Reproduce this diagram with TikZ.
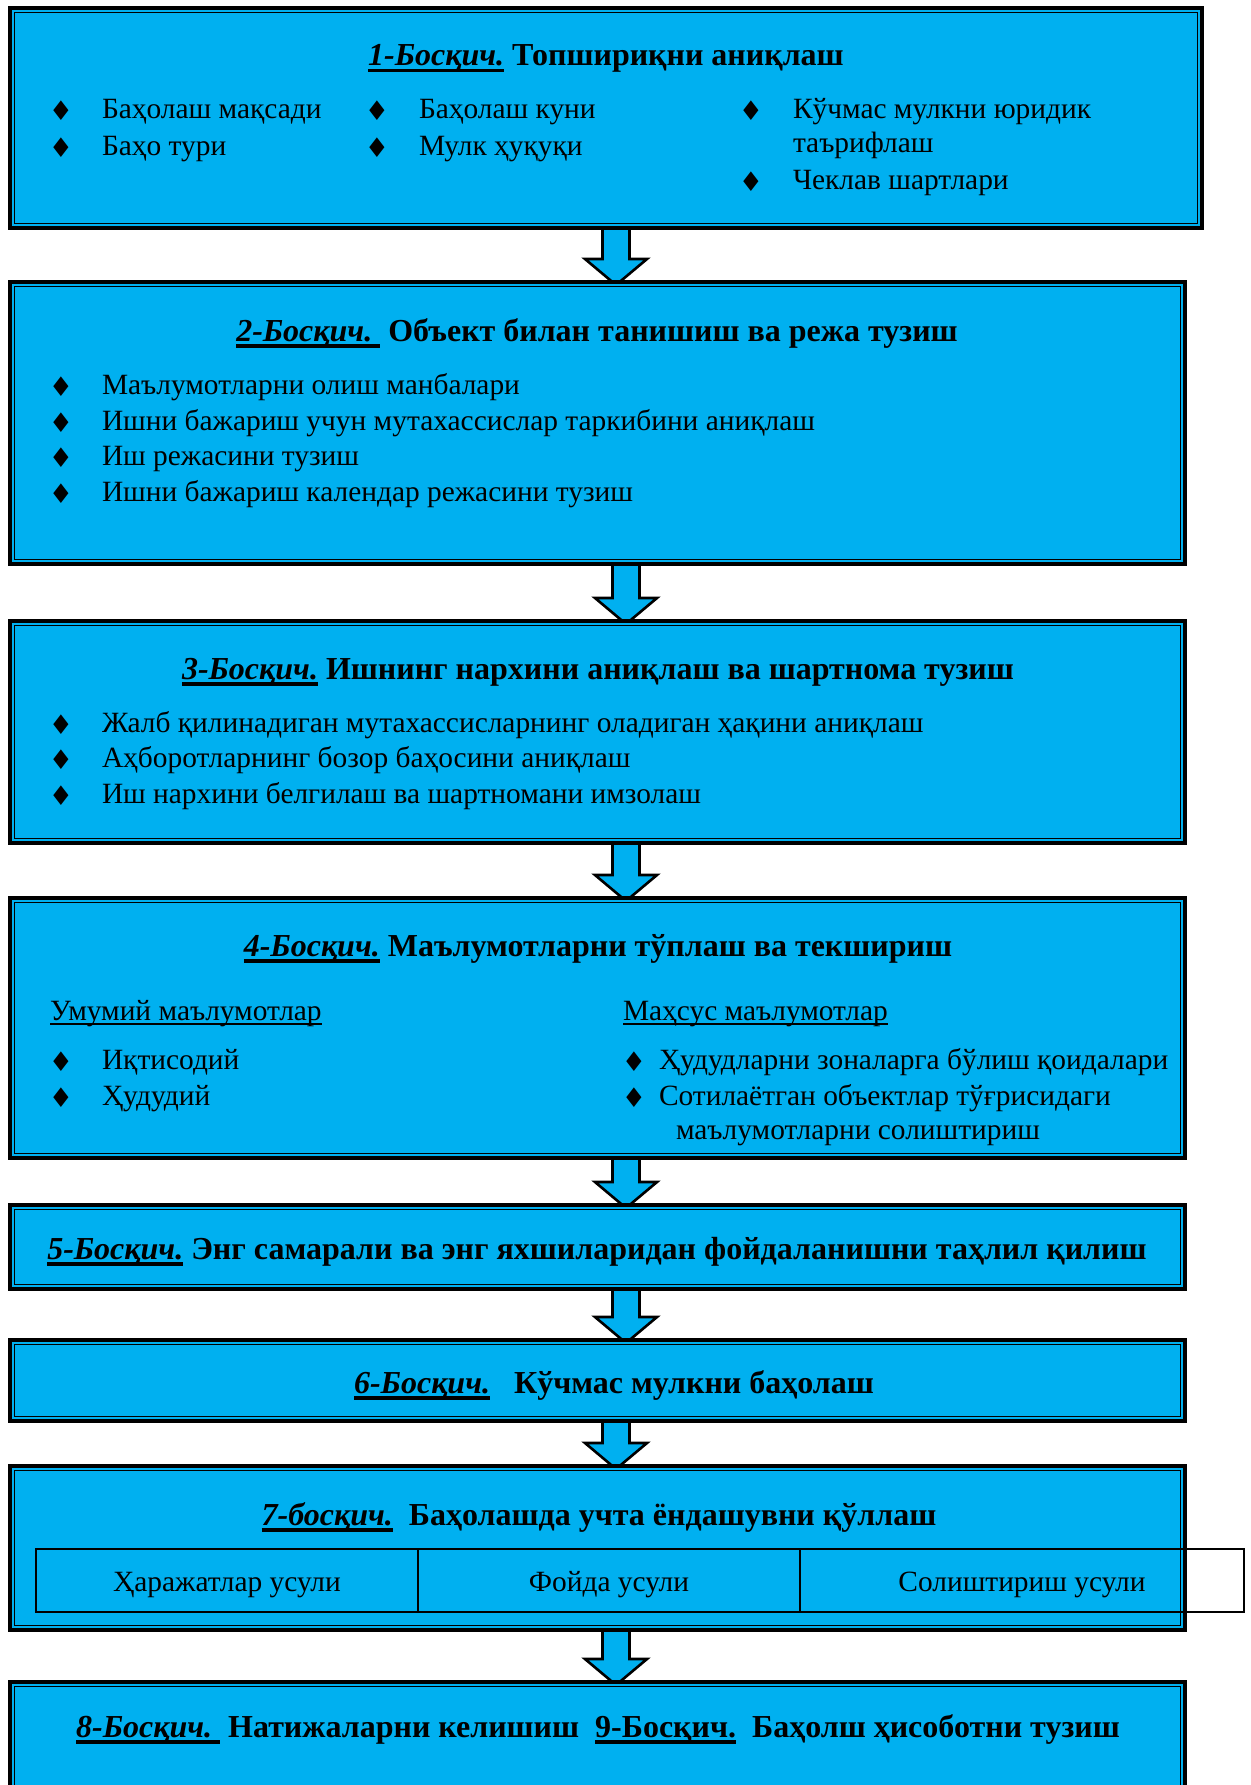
\documentclass[tikz,border=0pt]{standalone}
\usepackage{fontspec}
\setmainfont{Liberation Serif}
\newfontfamily\symf{DejaVu Sans}
\usetikzlibrary{calc,backgrounds}
\definecolor{boxblue}{RGB}{0,176,240}
\newsavebox{\ulbox}
\newcommand{\thickul}[1]{\sbox{\ulbox}{#1}\rlap{\rule[-6.5pt]{\wd\ulbox}{3.5pt}}\usebox{\ulbox}}
\newcommand{\thinul}[1]{\sbox{\ulbox}{#1}\rlap{\rule[-5pt]{\wd\ulbox}{1.6pt}}\usebox{\ulbox}}
\newcommand{\innerfr}[1]{\draw[innerframe] ([shift={(4.6pt,-4.6pt)}]#1.north west) rectangle ([shift={(-4.6pt,4.6pt)}]#1.south east);}
\newcommand{\stagearrow}[3]{%
  \draw[blockarrow] let \p1=(#1.south), \p2=(#2.north) in
    ({#3pt-13.5pt},\y1) -- ({#3pt+13.5pt},\y1) -- ({#3pt+13.5pt},\y2+23pt)
    -- ({#3pt+31pt},\y2+23pt) -- (#3pt,\y2-3pt) -- ({#3pt-31pt},\y2+23pt)
    -- ({#3pt-13.5pt},\y2+23pt) -- cycle;}
\begin{document}
\begin{tikzpicture}[x=1pt,y=-1pt,
  every node/.style={font=\fontsize{29.4}{35}\selectfont, inner sep=0pt, outer sep=0pt},
  stagebox/.style={draw=black, line width=4.4pt, fill=boxblue, rectangle},
  innerframe/.style={draw=black, line width=1.4pt},
  blockarrow/.style={draw=black, line width=2.6pt, fill=boxblue, line join=miter},
  txt/.style={anchor=base west},
  ttl/.style={anchor=base, font=\fontsize{32}{38}\selectfont\bfseries},
  bul/.style={anchor=base, yshift=-2pt, font=\fontsize{27}{30}\selectfont\symf},
  cell/.style={draw=black, line width=2.4pt, rectangle},
]
\useasboundingbox (0,0) rectangle (1250,1785);
\clip (0,0) rectangle (1250,1785);

% stage boxes
\node[stagebox, minimum width=1192pt, minimum height=220pt] (b1) at (606,118) {};
\node[stagebox, minimum width=1175pt, minimum height=282pt] (b2) at (597.5,423) {};
\node[stagebox, minimum width=1175pt, minimum height=222pt] (b3) at (597.5,732) {};
\node[stagebox, minimum width=1175pt, minimum height=260pt] (b4) at (597.5,1028) {};
\node[stagebox, minimum width=1175pt, minimum height=84pt] (b5) at (597.5,1247) {};
\node[stagebox, minimum width=1175pt, minimum height=81pt] (b6) at (597.5,1380.5) {};
\node[stagebox, minimum width=1175pt, minimum height=164pt] (b7) at (597.5,1548) {};
\node[stagebox, minimum width=1175pt, minimum height=148pt] (b8) at (597.5,1756) {};
\innerfr{b1}\innerfr{b2}\innerfr{b3}\innerfr{b4}
\innerfr{b5}\innerfr{b6}\innerfr{b7}\innerfr{b8}

% arrows between stages
\begin{pgfonlayer}{background}
\stagearrow{b1}{b2}{616}
\stagearrow{b2}{b3}{626}
\stagearrow{b3}{b4}{626}
\stagearrow{b4}{b5}{626}
\stagearrow{b5}{b6}{626}
\stagearrow{b6}{b7}{616}
\stagearrow{b7}{b8}{616}
\end{pgfonlayer}

% stage 1
\node[ttl] (t1) at (606,66) {\thickul{\textit{1-Босқич.}} Топшириқни аниқлаш};
\node[bul] (d1a) at (61,118) {♦};
\node[txt] (l1a) at (102,118) {Баҳолаш мақсади};
\node[bul] (d1b) at (61,155) {♦};
\node[txt] (l1b) at (102,155) {Баҳо тури};
\node[bul] (d1c) at (377,118) {♦};
\node[txt] (l1c) at (419,118) {Баҳолаш куни};
\node[bul] (d1d) at (377,155) {♦};
\node[txt] (l1d) at (419,155) {Мулк ҳуқуқи};
\node[bul] (d1e) at (751,118) {♦};
\node[txt] (l1e) at (793,118) {Кўчмас мулкни юридик};
\node[txt] (l1f) at (793,152) {таърифлаш};
\node[bul] (d1g) at (751,189) {♦};
\node[txt] (l1g) at (793,189) {Чеклав шартлари};

% stage 2
\node[ttl] (t2) at (597,341) {\thickul{\textit{2-Босқич.}\ }\ Объект билан танишиш ва режа тузиш};
\node[bul] (d2a) at (61,394) {♦};
\node[txt] (l2a) at (102,394) {Маълумотларни олиш манбалари};
\node[bul] (d2b) at (61,430) {♦};
\node[txt] (l2b) at (102,430) {Ишни бажариш учун мутахассислар таркибини аниқлаш};
\node[bul] (d2c) at (61,465) {♦};
\node[txt] (l2c) at (102,465) {Иш режасини тузиш};
\node[bul] (d2d) at (61,501) {♦};
\node[txt] (l2d) at (102,501) {Ишни бажариш календар режасини тузиш};

% stage 3
\node[ttl] (t3) at (598,679) {\thickul{\textit{3-Босқич.}} Ишнинг нархини аниқлаш ва шартнома тузиш};
\node[bul] (d3a) at (61,732) {♦};
\node[txt] (l3a) at (102,732) {Жалб қилинадиган мутахассисларнинг оладиган ҳақини аниқлаш};
\node[bul] (d3b) at (61,767) {♦};
\node[txt] (l3b) at (102,767) {Аҳборотларнинг бозор баҳосини аниқлаш};
\node[bul] (d3c) at (61,803) {♦};
\node[txt] (l3c) at (102,803) {Иш нархини белгилаш ва шартномани имзолаш};

% stage 4
\node[ttl] (t4) at (598,956) {\thickul{\textit{4-Босқич.}} Маълумотларни тўплаш ва текшириш};
\node[txt] (h4a) at (50,1020) {\thinul{Умумий маълумотлар}};
\node[txt] (h4b) at (623,1020) {\thinul{Маҳсус маълумотлар}};
\node[bul] (d4a) at (61,1069) {♦};
\node[txt] (l4a) at (102,1069) {Иқтисодий};
\node[bul] (d4b) at (61,1105) {♦};
\node[txt] (l4b) at (102,1105) {Ҳудудий};
\node[bul] (d4c) at (634,1069) {♦};
\node[txt] (l4c) at (659,1069) {Ҳудудларни зоналарга бўлиш қоидалари};
\node[bul] (d4d) at (634,1105) {♦};
\node[txt] (l4d) at (659,1105) {Сотилаётган объектлар тўғрисидаги};
\node[txt] (l4e) at (676,1139) {маълумотларни солиштириш};

% stage 5
\node[ttl] (t5) at (597,1259) {\thickul{\textit{5-Босқич.}} Энг самарали ва энг яхшиларидан фойдаланишни таҳлил қилиш};

% stage 6
\node[ttl] (t6) at (614,1393) {\thickul{\textit{6-Босқич.}}\ \ \ Кўчмас мулкни баҳолаш};

% stage 7
\node[ttl] (t7) at (599,1525) {\thickul{\textit{7-босқич.}}\ \ Баҳолашда учта ёндашувни қўллаш};
\node[cell, minimum width=382pt, minimum height=63pt] (c1) at (227,1580.5) {};
\node[cell, minimum width=382pt, minimum height=63pt] (c2) at (609,1580.5) {};
\node[cell, minimum width=444pt, minimum height=63pt] (c3) at (1022,1580.5) {};
\node[anchor=base] (m1) at (227,1591) {Ҳаражатлар усули};
\node[anchor=base] (m2) at (609,1591) {Фойда усули};
\node[anchor=base] (m3) at (1022,1591) {Солиштириш усули};

% stage 8
\node[ttl] (t8) at (598,1737) {\thickul{\textit{8-Босқич.}\ }\ Натижаларни келишиш\ \ \thickul{9-Босқич.}\ \ Баҳолш ҳисоботни тузиш};
\end{tikzpicture}
\end{document}
